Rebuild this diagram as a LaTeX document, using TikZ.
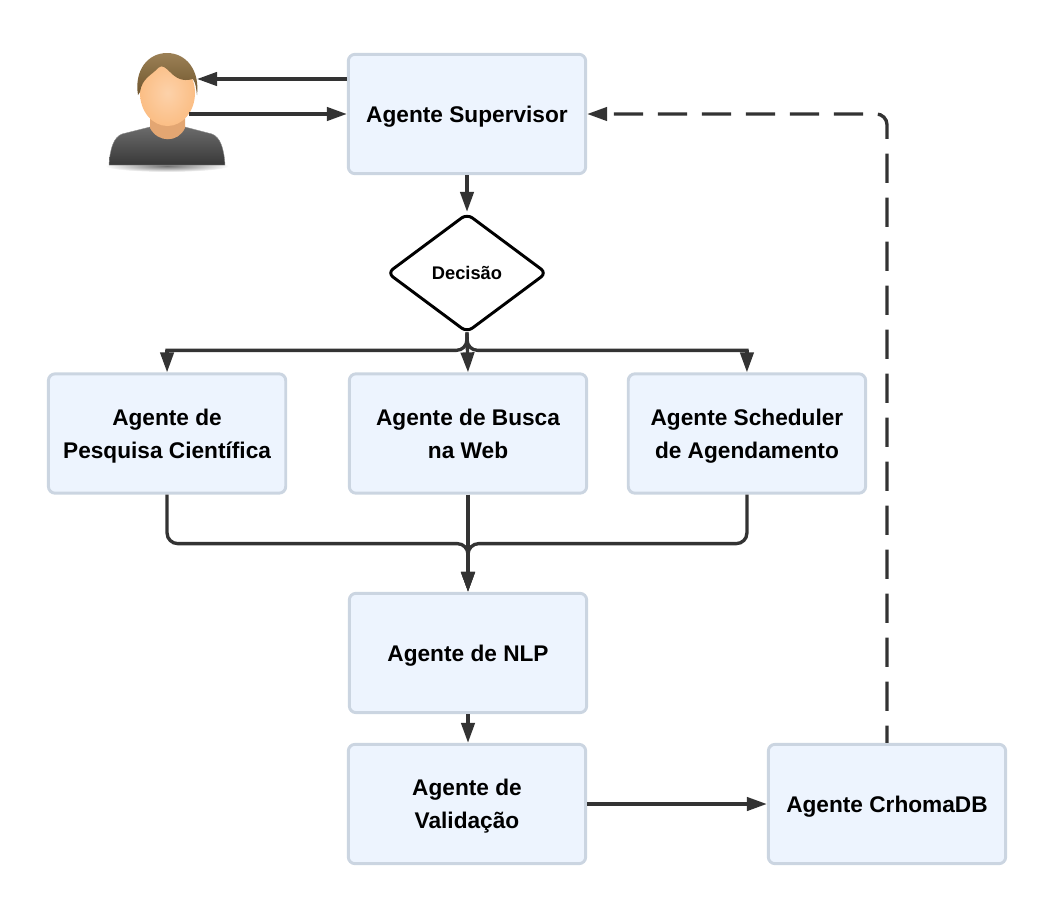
\documentclass[tikz,border=0pt]{standalone}
\usepackage{fontspec}
\setmainfont{Liberation Sans}
\usetikzlibrary{arrows.meta,positioning,shapes.geometric}
\definecolor{BoxFill}{HTML}{EDF4FE}
\definecolor{BoxEdge}{HTML}{CBD5E1}
\definecolor{FlowInk}{HTML}{333333}
\definecolor{HairColor}{HTML}{8A6A38}
\definecolor{SkinColor}{HTML}{FBBE85}
\definecolor{NeckColor}{HTML}{E3A672}
\tikzset{
  agent box/.style={draw=BoxEdge, fill=BoxFill, rounded corners=5pt, line width=2.2pt,
    minimum width=178pt, minimum height=89.5pt, align=center, inner sep=0pt, text depth=0pt,
    font=\fontsize{17}{24.5}\selectfont\bfseries},
  decision box/.style={diamond, draw=black, fill=white, line width=2.2pt, rounded corners=5pt,
    aspect=1.34, minimum width=120pt, minimum height=89.5pt, inner sep=0pt,
    font=\fontsize{13.7}{16}\selectfont\bfseries},
  flow/.style={-{Triangle[length=15pt,width=10pt]}, draw=FlowInk, line width=2.5pt},
  fork line/.style={draw=FlowInk, line width=2.5pt, rounded corners=8pt, line cap=rect},
  branch flow/.style={flow, rounded corners=8pt},
  return flow/.style={flow, rounded corners=8pt, dash pattern=on 22pt off 11pt, dash phase=9pt},
}

\begin{document}
\begin{tikzpicture}[x=0.75pt, y=-0.75pt]
  \useasboundingbox (0,0) rectangle (1056,896);

  \node[agent box] (supervisor) at (467,114) {Agente Supervisor};
  \node[decision box] (decision) at (467,273) {Decisão};
  \node[agent box] (busca) at (468,433.5) {Agente de Busca\\na Web};
  \node[agent box, left=45.5pt of busca] (pesquisa) {Agente de\\Pesquisa Científica};
  \node[agent box, right=29pt of busca] (scheduler) {Agente Scheduler\\de Agendamento};
  \node[agent box, below=72.9pt of busca] (nlp) {Agente de NLP};
  \node[agent box] (validacao) at (467,804) {Agente de\\Validação};
  \node[agent box] (chroma) at (887,804) {Agente CrhomaDB};

  % User figure
  \node[minimum width=88.5pt, minimum height=84pt, inner sep=0pt] (user) at (167,109) {};
  \shade[inner color=black!55, outer color=white] (167,166) ellipse (62 and 6);
  \shade[top color=black!58, bottom color=black!78, draw=black!45, line width=0.3pt]
    (109,165) .. controls (110,148) and (114,137) .. (122,134) -- (150,127) -- (185,127)
    -- (212,134) .. controls (220,137) and (224,148) .. (225,165) -- cycle;
  \fill[NeckColor] (150,118) -- (185,118) -- (185,128) .. controls (178,143) and (158,143) .. (150,128) -- cycle;
  \shade[inner color=SkinColor!70!white, outer color=SkinColor] (167.5,93) ellipse (27.5 and 33);
  \shade[top color=HairColor!85!white, bottom color=HairColor!80!black]
    (138,95) .. controls (134,70) and (148,53) .. (167,53) .. controls (186,53) and (200,70) .. (197,95)
    .. controls (196,88) and (196,84) .. (193,79) .. controls (182,82) and (176,78) .. (170,72)
    .. controls (166,68) and (162,64) .. (158,68) .. controls (152,75) and (142,78) .. (140,92) -- cycle;
  \coordinate (userHead) at (197,79);
  \coordinate (userChest) at (189,114);

  % Fork under the decision
  \coordinate (forkMid) at ([yshift=16.5pt]busca.north);
  \coordinate (forkLeft) at (forkMid -| pesquisa.north);
  \coordinate (forkRight) at (forkMid -| scheduler.north);

  \draw[flow] (supervisor.west |- userHead) -- (userHead);
  \draw[flow] (userChest) -- (supervisor.west);
  \draw[flow] (supervisor.south) -- (decision.north);
  \draw[fork line] (decision.south) |- (forkLeft);
  \draw[fork line] (decision.south) |- (forkRight);
  \draw[flow] (forkLeft) -- (pesquisa.north);
  \draw[flow] (decision.south) -- (busca.north);
  \draw[flow] (forkRight) -- (scheduler.north);
  \draw[branch flow] (pesquisa.south) -- ++(0,49) -| (nlp.north);
  \draw[flow] (busca.south) -- (nlp.north);
  \draw[branch flow] (scheduler.south) -- ++(0,49) -| (nlp.north);
  \draw[flow] (nlp.south) -- (validacao.north -| nlp.south);
  \draw[flow] (validacao.east) -- (chroma.west);
  \draw[return flow] (chroma.north) |- (supervisor.east);
\end{tikzpicture}
\end{document}
